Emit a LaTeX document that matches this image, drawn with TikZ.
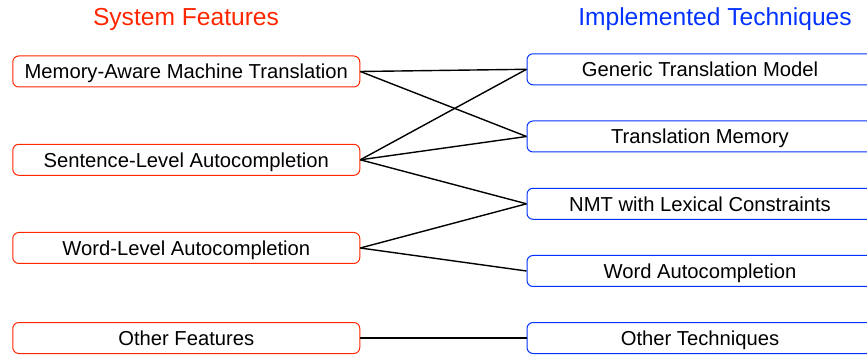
\documentclass[tikz,border=0pt]{standalone}
\usepackage{fontspec}
\setmainfont{Liberation Sans}
\definecolor{featred}{RGB}{255,38,0}
\definecolor{techblue}{RGB}{4,51,255}
\begin{document}
\begin{tikzpicture}[x=1pt,y=-1pt,
  boxtext/.style={font=\fontsize{20.2}{22}\selectfont,text height=14.5pt,text depth=0pt},
  feat/.style={draw=featred,line width=1pt,rounded corners=6pt,minimum width=347pt,minimum height=31pt,inner sep=0pt,boxtext},
  tech/.style={draw=techblue,line width=1pt,rounded corners=6pt,minimum width=346pt,minimum height=31pt,inner sep=0pt,boxtext},
  title/.style={font=\fontsize{24.6}{27}\selectfont,inner sep=0pt,text height=17.6pt,text depth=0pt},
  link/.style={line width=1.4pt,black}]
\useasboundingbox (0,0) rectangle (867,355);
\clip (0,0) rectangle (867,355);
\node[title,text=featred] (t1) at (186,16.7) {System Features};
\node[title,text=techblue] (t2) at (715,16.7) {Implemented Techniques};
\node[feat] (f1) at (186.3,71.5) {Memory-Aware Machine Translation};
\node[feat] (f2) at (186.3,159.8) {Sentence-Level Autocompletion};
\node[feat] (f3) at (186.3,248) {Word-Level Autocompletion};
\node[feat] (f4) at (186.3,338) {Other Features};
\node[tech] (g1) at (700,69.3) {Generic Translation Model};
\node[tech] (g2) at (700,136.5) {Translation Memory};
\node[tech] (g3) at (700,203.8) {NMT with Lexical Constraints};
\node[tech] (g4) at (700,271) {Word Autocompletion};
\node[tech] (g5) at (700,338) {Other Techniques};
\draw[link] (f1.east) -- (g1.west);
\draw[link] (f1.east) -- (g2.west);
\draw[link] (f2.east) -- (g1.west);
\draw[link] (f2.east) -- (g2.west);
\draw[link] (f2.east) -- (g3.west);
\draw[link] (f3.east) -- (g3.west);
\draw[link] (f3.east) -- (g4.west);
\draw[link] (f4.east) -- (g5.west);
\end{tikzpicture}
\end{document}
